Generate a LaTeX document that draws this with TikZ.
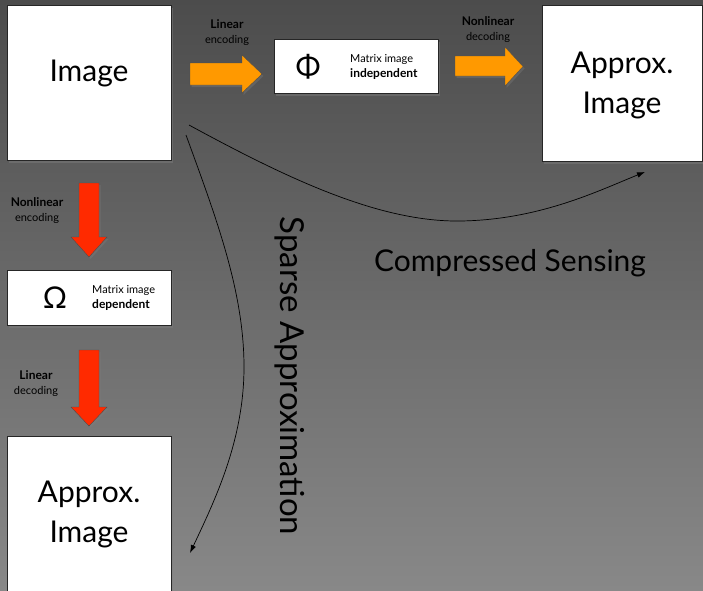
\documentclass[tikz,border=0pt]{standalone}
\usepackage{fontspec}
\setmainfont{Lato}
\usetikzlibrary{arrows.meta,shadows}
\definecolor{bgtop}{RGB}{76,76,76}
\definecolor{bgbot}{RGB}{136,136,136}
\definecolor{orangeA}{RGB}{255,153,0}
\definecolor{redA}{RGB}{255,42,0}
\tikzset{
  whitebox/.style={draw=black!85, line width=0.6pt, fill=white, inner sep=0pt,
    drop shadow={shadow xshift=2pt, shadow yshift=-3pt, opacity=0.45}},
  bigtext/.style={font=\fontsize{30}{40}\selectfont, align=center, inner sep=0pt},
  greek/.style={font=\fontsize{30}{32}\selectfont, inner sep=0pt},
  lbl/.style={font=\fontsize{11}{15}\selectfont, align=center, inner sep=0pt},
  mlbl/.style={font=\fontsize{11}{15}\selectfont, align=left, inner sep=0pt, anchor=west},
  bfl/.style={font=\fontsize{12.5}{15}\selectfont\bfseries},
  fatarrow/.style={draw=black!70, line width=0.4pt,
    drop shadow={shadow xshift=1.5pt, shadow yshift=-2pt, opacity=0.35}},
  conn/.style={line width=0.7pt, -{Latex[length=8pt,width=5.5pt]}},
}
\newcommand{\bl}[1]{{\fontsize{12}{15}\selectfont\bfseries #1}}
\begin{document}
\begin{tikzpicture}[x=1pt,y=-1pt]
\useasboundingbox (0,0) rectangle (703,590);
\clip (0,0) rectangle (703,590);
\shade[top color=bgtop, bottom color=bgbot] (0,0) rectangle (703,590);

% boxes
\node[whitebox, minimum width=164pt, minimum height=155pt] (img) at (89,82.5) {};
\node[bigtext] (imgt) at (89,73) {Image};
\node[whitebox, minimum width=164pt, minimum height=54pt] (phi) at (356,66) {};
\node[greek] (phis) at (308,67) {Φ};
\node[mlbl] (phit) at (350,66.5) {Matrix image\\\bl{independent}};
\node[whitebox, minimum width=160pt, minimum height=156pt] (apr) at (622,83) {};
\node[bigtext] (aprt) at (622,85) {Approx.\\Image};

\node[whitebox, minimum width=164pt, minimum height=55pt] (om) at (89,297.5) {};
\node[greek] (oms) at (55,298) {Ω};
\node[mlbl] (omt) at (92,298) {Matrix image\\\bl{dependent}};
\node[whitebox, minimum width=164pt, minimum height=156pt] (apl) at (89,514) {};
\node[bigtext] (aplt) at (89,514) {Approx.\\Image};

% fat arrows
\draw[fatarrow, fill=orangeA] (190,63) -- (242,63) -- (242,55) -- (262,74) -- (242,93) -- (242,85) -- (190,85) -- cycle;
\draw[fatarrow, fill=orangeA] (455,56) -- (505,56) -- (505,47) -- (523,66.5) -- (505,86) -- (505,76) -- (455,76) -- cycle;
\draw[fatarrow, fill=redA] (79,183) -- (99,183) -- (99,237) -- (107,237) -- (89,257) -- (71,237) -- (79,237) -- cycle;
\draw[fatarrow, fill=redA] (79,350) -- (99,350) -- (99,407) -- (107,407) -- (89,426) -- (71,407) -- (79,407) -- cycle;

% labels
\node[lbl] (l1) at (227,32.5) {\bl{Linear}\\encoding};
\node[lbl] (l2) at (488,29.5) {\bl{Nonlinear}\\decoding};
\node[lbl] (l3) at (37,210.5) {\bl{Nonlinear}\\encoding};
\node[lbl] (l4) at (36,383.5) {\bl{Linear}\\decoding};

% curved connectors
\coordinate (csa) at (189,125);
\coordinate (csm) at (460,221);
\coordinate (csb) at (645,172);
\coordinate (spa) at (186,135);
\coordinate (spm) at (244,367);
\coordinate (spb) at (190,553);
\draw[conn] (csa) .. controls (290,180) and (380,222) .. (csm) .. controls (540,220) and (600,190) .. (csb);
\draw[conn] (spa) .. controls (215,215) and (244,290) .. (spm) .. controls (244,440) and (215,500) .. (spb);

\node[bigtext] (cs) at (510,263) {Compressed Sensing};
\node[bigtext, font=\fontsize{33}{40}\selectfont, rotate=-90] (sa) at (290,376) {Sparse Approximation};
\end{tikzpicture}
\end{document}
